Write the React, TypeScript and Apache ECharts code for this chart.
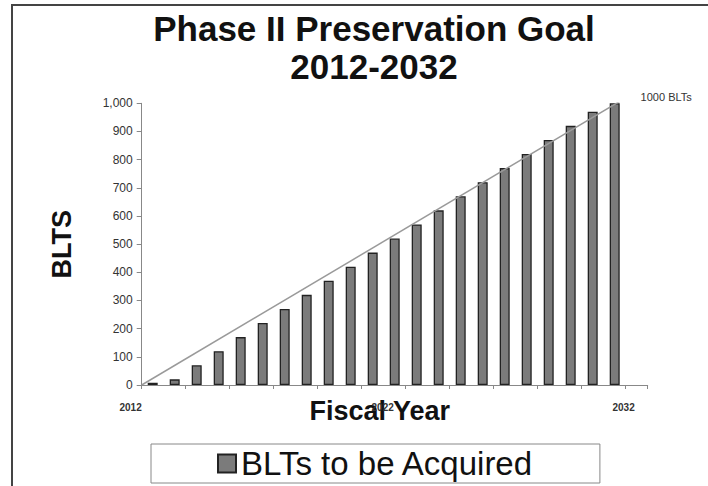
import React, { useEffect, useRef } from "react";
import * as echarts from "echarts";

// Acquisition periods (category slots on the x axis; the last slot is empty)
const periods: string[] = [
  "P1", "P2", "P3", "P4", "P5", "P6", "P7", "P8", "P9", "P10", "P11", "P12",
  "P13", "P14", "P15", "P16", "P17", "P18", "P19", "P20", "P21", "P22", "",
];
// Cumulative BLTs to be acquired
const bltsAcquired: (number | null)[] = [
  8, 20, 70, 120, 170, 220, 270, 320, 370, 420, 470, 520, 570, 620, 670, 720,
  770, 820, 870, 920, 970, 1000, null,
];
// Goal line (year, BLTs)
const goalLine: [number, number][] = [
  [2012, 0],
  [2032, 1015],
];
const yearMin = 2012;
const yearMax = 2033;
const yearLabels: number[] = [2012, 2022, 2032];
const yTicks = { min: 0, max: 1000, interval: 100 };

export default function App() {
  const ref = useRef<HTMLDivElement>(null);
  useEffect(() => {
    if (!ref.current) return;
    const chart = echarts.init(ref.current, undefined, { renderer: "svg" });
    const font = "Liberation Sans, Arial, sans-serif";
    chart.setOption({
      animation: false,
      backgroundColor: "#ffffff",
      textStyle: { fontFamily: font },
      title: {
        text: "Phase II Preservation Goal\n2012-2032",
        left: 369,
        top: 4,
        textAlign: "center",
        textStyle: {
          fontSize: 35,
          fontWeight: "bold",
          color: "#111",
          lineHeight: 38,
          fontFamily: font,
        },
      },
      legend: {
        data: [{ name: "BLTs to be Acquired", icon: "rect" }],
        left: 151,
        top: 444,
        padding: [3, 66, 3, 66],
        borderColor: "#888",
        borderWidth: 1,
        itemWidth: 18,
        itemHeight: 18,
        itemGap: 6,
        textStyle: { fontSize: 33, color: "#111", fontFamily: font },
      },
      grid: { left: 141.7, right: 60.3, top: 103.3, bottom: 101, containLabel: false },
      xAxis: [
        {
          type: "category",
          data: periods,
          boundaryGap: true,
          axisLine: { lineStyle: { color: "#888", width: 1 } },
          axisTick: { show: true, inside: false, length: 4, lineStyle: { color: "#888" } },
          axisLabel: { show: false },
          name: "Fiscal Year",
          nameLocation: "middle",
          nameGap: 12,
          nameTextStyle: {
            fontSize: 27,
            fontWeight: "bold",
            color: "#111",
            padding: [0, 30, 0, 0],
            fontFamily: font,
          },
        },
        {
          type: "value",
          position: "bottom",
          min: yearMin,
          max: yearMax,
          axisLine: { show: false },
          axisTick: { show: false },
          splitLine: { show: false },
          axisLabel: {
            customValues: yearLabels,
            alignMinLabel: "right",
            margin: 17,
            fontSize: 10,
            fontWeight: "bold",
            color: "#333",
            formatter: (v: number) => String(v),
          },
        },
      ],
      yAxis: {
        type: "value",
        min: yTicks.min,
        max: yTicks.max,
        interval: yTicks.interval,
        splitLine: { show: false },
        axisLine: { show: true, lineStyle: { color: "#888", width: 1 } },
        axisTick: { show: true, length: 5, lineStyle: { color: "#888" } },
        axisLabel: {
          fontSize: 12,
          color: "#333",
          margin: 9,
          formatter: (v: number) => v.toLocaleString("en-US"),
        },
        name: "BLTS",
        nameLocation: "middle",
        nameGap: 66,
        nameRotate: 90,
        nameTextStyle: { fontSize: 27, fontWeight: "bold", color: "#111", fontFamily: font },
      },
      series: [
        {
          name: "BLTs to be Acquired",
          type: "bar",
          xAxisIndex: 0,
          data: bltsAcquired,
          barWidth: 10,
          itemStyle: { color: "#7b7b7b", borderColor: "#222", borderWidth: 1.3 },
        },
        {
          name: "Goal",
          type: "line",
          xAxisIndex: 1,
          data: goalLine,
          symbol: "none",
          lineStyle: { color: "#9a9a9a", width: 1.5 },
          endLabel: {
            show: true,
            formatter: () => "1000 BLTs",
            fontSize: 11,
            color: "#333",
            distance: 17,
            offset: [0, -2],
          },
          z: 3,
        },
      ],
      graphic: [
        {
          type: "polyline",
          shape: { points: [[12, 486], [12, 5], [708, 5]] },
          style: { stroke: "#444", lineWidth: 2, fill: "none" },
          silent: true,
        },
      ],
    });
    return () => chart.dispose();
  }, []);
  return (
    <div
      ref={ref}
      style={{ position: "fixed", left: 0, top: 0, width: 708, height: 486 }}
    />
  );
}
